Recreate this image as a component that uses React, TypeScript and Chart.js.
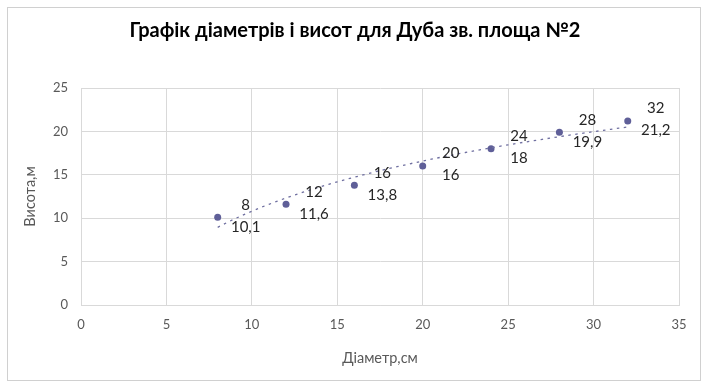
import React, { useEffect, useRef } from "react";
import { Chart, registerables } from "chart.js";

Chart.register(...registerables);

const chartTitle = "Графік діаметрів і висот для Дуба зв. площа №2";
const xAxisTitle = "Діаметр,см";
const yAxisTitle = "Висота,м";
const diameters = [8, 12, 16, 20, 24, 28, 32];
const heights = [10.1, 11.6, 13.8, 16, 18, 19.9, 21.2];
const xRange = [0, 35];
const yRange = [0, 25];
const tickStep = 5;

// logarithmic trendline fitted to the data (as the original's trendline)
function logFit(xs: number[], ys: number[]) {
  const lx = xs.map((v) => Math.log(v));
  const n = xs.length;
  const mx = lx.reduce((a, b) => a + b, 0) / n;
  const my = ys.reduce((a, b) => a + b, 0) / n;
  let sxy = 0;
  let sxx = 0;
  for (let i = 0; i < n; i++) {
    sxy += (lx[i] - mx) * (ys[i] - my);
    sxx += (lx[i] - mx) * (lx[i] - mx);
  }
  const a = sxy / sxx;
  const b = my - a * mx;
  return (x: number) => a * Math.log(x) + b;
}

const FONT = "Lato, 'Open Sans', sans-serif";

export default function App() {
  const ref = useRef<HTMLCanvasElement | null>(null);

  useEffect(() => {
    document.body.style.margin = "0";
    const canvas = ref.current;
    if (!canvas) return;
    const f = logFit(diameters, heights);
    const xMin = Math.min(...diameters);
    const xMax = Math.max(...diameters);
    const trend: { x: number; y: number }[] = [];
    const steps = 48;
    for (let i = 0; i <= steps; i++) {
      const x = xMin + ((xMax - xMin) * i) / steps;
      trend.push({ x, y: f(x) });
    }

    const frame = {
      id: "frame",
      beforeDraw(chart: any) {
        const { ctx, width, height } = chart;
        ctx.save();
        ctx.fillStyle = "#ffffff";
        ctx.fillRect(0, 0, width, height);
        ctx.strokeStyle = "#d0d0d0";
        ctx.lineWidth = 1;
        ctx.strokeRect(7.5, 7.5, 693, 373);
        ctx.fillStyle = "#000000";
        ctx.font = `bold 20px ${FONT}`;
        ctx.textAlign = "center";
        ctx.textBaseline = "middle";
        ctx.fillText(chartTitle, 355, 31);
        ctx.restore();
      },
    };

    const labels = {
      id: "pointLabels",
      afterDatasetsDraw(chart: any) {
        const meta = chart.getDatasetMeta(1);
        const { ctx } = chart;
        ctx.save();
        ctx.font = `15px ${FONT}`;
        ctx.fillStyle = "#262626";
        ctx.textAlign = "center";
        ctx.textBaseline = "middle";
        meta.data.forEach((el: any, i: number) => {
          ctx.fillText(String(diameters[i]).replace(".", ","), el.x + 28, el.y - 12.5);
          ctx.fillText(String(heights[i]).replace(".", ","), el.x + 28, el.y + 9.5);
        });
        ctx.restore();
      },
    };

    const chart = new Chart(canvas, {
      type: "scatter",
      data: {
        datasets: [
          {
            label: "trend",
            data: trend,
            showLine: true,
            pointRadius: 0,
            borderColor: "#6f6fa0",
            borderWidth: 1.3,
            borderDash: [2.5, 4.5],
            fill: false,
            tension: 0,
          },
          {
            label: "data",
            data: diameters.map((x, i) => ({ x, y: heights[i] })),
            pointRadius: 3.5,
            pointBackgroundColor: "#5f5f98",
            pointBorderColor: "#5f5f98",
            pointBorderWidth: 0,
            showLine: false,
          },
        ],
      },
      options: {
        responsive: false,
        animation: false,
        layout: { padding: { top: 88, left: 0, right: 29, bottom: 0 } },
        plugins: {
          legend: { display: false },
          tooltip: { enabled: false },
          title: { display: false },
        },
        scales: {
          x: {
            type: "linear",
            min: xRange[0],
            max: xRange[1],
            ticks: {
              stepSize: tickStep,
              color: "#595959",
              font: { family: FONT, size: 13 },
              padding: 12,
            },
            grid: { color: "#d9d9d9", drawTicks: false },
            border: { color: "#d9d9d9" },
            title: {
              display: true,
              text: xAxisTitle,
              color: "#595959",
              font: { family: FONT, size: 14.5 },
              padding: { top: 0, bottom: 20 },
            },
            afterFit(scale: any) {
              scale.height = 82;
            },
          },
          y: {
            type: "linear",
            min: yRange[0],
            max: yRange[1],
            ticks: {
              stepSize: tickStep,
              color: "#595959",
              font: { family: FONT, size: 13 },
              padding: 13,
            },
            grid: { color: "#d9d9d9", drawTicks: false },
            border: { color: "#d9d9d9" },
            title: {
              display: true,
              text: yAxisTitle,
              color: "#595959",
              font: { family: FONT, size: 14.5 },
              padding: { top: 22, bottom: 0 },
            },
            afterFit(scale: any) {
              scale.width = 81;
            },
          },
        },
      },
      plugins: [frame, labels],
    });
    return () => chart.destroy();
  }, []);

  return <canvas ref={ref} width={708} height={387} style={{ display: "block", width: 708, height: 387 }} />;
}
